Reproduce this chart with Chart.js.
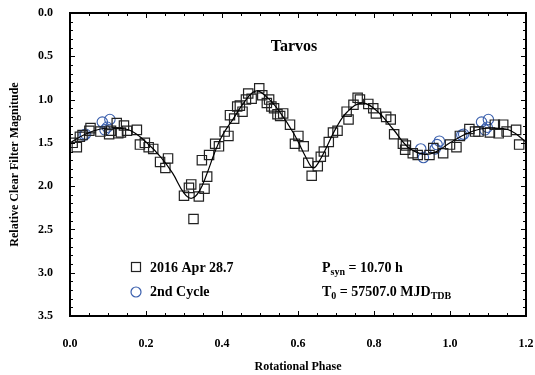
<!DOCTYPE html>
<html>
<head>
<meta charset="utf-8">
<script src="https://cdn.jsdelivr.net/npm/chart.js@4/dist/chart.umd.min.js"></script>
<style>
  html, body { margin: 0; padding: 0; background: #fff; }
  #wrap { width: 535px; height: 375px; }
</style>
</head>
<body>
<div id="wrap"><canvas id="myChart" width="535" height="375"></canvas></div>
<script>
'use strict';

// 2016 Apr 28.7 (squares): [phase, magnitude]
let obsPoints = [
  [0.007, 1.50], [0.018, 1.55], [0.026, 1.43], [0.033, 1.41], [0.051, 1.36], [0.054, 1.33],
  [0.080, 1.37], [0.103, 1.40], [0.108, 1.36], [0.123, 1.27], [0.127, 1.39], [0.134, 1.38],
  [0.142, 1.30], [0.150, 1.36], [0.176, 1.35], [0.184, 1.52], [0.197, 1.50], [0.207, 1.55],
  [0.219, 1.57], [0.237, 1.72], [0.251, 1.79], [0.258, 1.68], [0.300, 2.11], [0.313, 2.02],
  [0.319, 1.98], [0.325, 2.38], [0.339, 2.12], [0.354, 2.03], [0.347, 1.70], [0.361, 1.89],
  [0.366, 1.64], [0.382, 1.51], [0.392, 1.54], [0.407, 1.37], [0.417, 1.42], [0.421, 1.18],
  [0.432, 1.22], [0.440, 1.08], [0.447, 1.07], [0.454, 1.14], [0.463, 1.00], [0.469, 0.93],
  [0.478, 0.99], [0.498, 0.87], [0.506, 0.95], [0.518, 1.04], [0.524, 1.00], [0.530, 1.08],
  [0.537, 1.10], [0.546, 1.17], [0.553, 1.19], [0.561, 1.16], [0.579, 1.29], [0.592, 1.51],
  [0.601, 1.42], [0.615, 1.54], [0.627, 1.73], [0.636, 1.88], [0.652, 1.77], [0.660, 1.66],
  [0.668, 1.60], [0.681, 1.49], [0.692, 1.38], [0.704, 1.36], [0.728, 1.14], [0.733, 1.23],
  [0.746, 1.06], [0.757, 0.98], [0.763, 1.00], [0.785, 1.05], [0.798, 1.10], [0.805, 1.16],
  [0.832, 1.20], [0.844, 1.23], [0.853, 1.40], [0.876, 1.51], [0.884, 1.53], [0.882, 1.58],
  [0.902, 1.62], [0.915, 1.64], [0.946, 1.64], [0.956, 1.56], [0.982, 1.62], [1.000, 1.52],
  [1.017, 1.55], [1.026, 1.42], [1.051, 1.34], [1.066, 1.37], [1.075, 1.37], [1.105, 1.38],
  [1.118, 1.29], [1.128, 1.39], [1.140, 1.29], [1.149, 1.37], [1.174, 1.35], [1.182, 1.52]
];

// 2nd Cycle (circles)
let cyclePoints = [
  [0.037, 1.41], [0.041, 1.40], [0.085, 1.26], [0.105, 1.23], [0.092, 1.35], [0.098, 1.32],
  [0.923, 1.57], [0.930, 1.67], [0.961, 1.57], [0.966, 1.52], [0.972, 1.48],
  [1.031, 1.41], [1.036, 1.40], [1.083, 1.26], [1.101, 1.23], [1.092, 1.35], [1.098, 1.32]
];

// fitted curve
let fitPoints = [
  [0.00, 1.50], [0.04, 1.40], [0.08, 1.34], [0.12, 1.33], [0.16, 1.36], [0.20, 1.49],
  [0.24, 1.67], [0.27, 1.85], [0.30, 2.08], [0.32, 2.14], [0.34, 2.06], [0.36, 1.86],
  [0.38, 1.62], [0.40, 1.42], [0.43, 1.22], [0.46, 1.02], [0.49, 0.90], [0.52, 0.98],
  [0.55, 1.13], [0.59, 1.40], [0.62, 1.66], [0.64, 1.79], [0.66, 1.68], [0.70, 1.33],
  [0.73, 1.14], [0.77, 1.04], [0.81, 1.14], [0.85, 1.34], [0.89, 1.55], [0.93, 1.63],
  [0.96, 1.61], [1.00, 1.50], [1.04, 1.40], [1.08, 1.34], [1.12, 1.33], [1.16, 1.36],
  [1.20, 1.49]
];

let xTicks = [0.0, 0.2, 0.4, 0.6, 0.8, 1.0, 1.2];
let yTicks = [0.0, 0.5, 1.0, 1.5, 2.0, 2.5, 3.0, 3.5];

let chartTitle = 'Tarvos';
let legendLabels = ['2016 Apr 28.7', '2nd Cycle'];

const FONT = "'Liberation Serif', 'DejaVu Serif', serif";
const BLUE = '#3a5fad';

function toXY(arr) {
  return arr.map(p => ({ x: p[0], y: p[1] }));
}

// text with a subscript part: [[text, isSub], ...]
function drawRich(ctx, x, y, parts) {
  for (let i = 0; i < parts.length; i++) {
    let sub = parts[i][1];
    ctx.font = sub ? 'bold 10px ' + FONT : 'bold 14px ' + FONT;
    ctx.fillText(parts[i][0], x, sub ? y + 4 : y);
    x += ctx.measureText(parts[i][0]).width;
  }
}

let framePlugin = {
  id: 'framePlugin',
  afterDraw(chart) {
    let ctx = chart.ctx;
    let a = chart.chartArea;
    let xs = chart.scales.x;
    let ys = chart.scales.y;
    ctx.save();
    ctx.strokeStyle = '#000';

    // inward ticks on all four sides
    ctx.lineWidth = 1;
    ctx.beginPath();
    for (let i = 0; i <= 24; i++) {
      let v = i * 0.05;
      let len = (i % 4 === 0) ? 5 : 3;
      let px = Math.round(xs.getPixelForValue(v)) + 0.5;
      ctx.moveTo(px, a.bottom); ctx.lineTo(px, a.bottom - len);
      ctx.moveTo(px, a.top); ctx.lineTo(px, a.top + len);
    }
    for (let i = 0; i <= 35; i++) {
      let v = i * 0.1;
      let len = (i % 5 === 0) ? 5 : 3;
      let py = Math.round(ys.getPixelForValue(v)) + 0.5;
      ctx.moveTo(a.left, py); ctx.lineTo(a.left + len, py);
      ctx.moveTo(a.right, py); ctx.lineTo(a.right - len, py);
    }
    ctx.stroke();

    ctx.lineWidth = 2;
    ctx.strokeRect(a.left, a.top, a.right - a.left, a.bottom - a.top);

    // title
    ctx.fillStyle = '#000';
    ctx.textBaseline = 'middle';
    ctx.textAlign = 'center';
    ctx.font = 'bold 16px ' + FONT;
    ctx.fillText(chartTitle, 294, 47);

    // legend
    ctx.textAlign = 'left';
    ctx.lineWidth = 1.2;
    ctx.strokeStyle = '#222';
    ctx.strokeRect(131.5, 262.5, 9, 9);
    ctx.strokeStyle = BLUE;
    ctx.beginPath();
    ctx.arc(136, 292, 5, 0, Math.PI * 2);
    ctx.stroke();
    ctx.font = 'bold 14px ' + FONT;
    ctx.fillText(legendLabels[0], 150, 268);
    ctx.fillText(legendLabels[1], 150, 292);

    // period / epoch
    drawRich(ctx, 322, 268, [['P', false], ['syn', true], [' = 10.70 h', false]]);
    drawRich(ctx, 322, 292, [['T', false], ['0', true], [' = 57507.0 MJD', false], ['TDB', true]]);
    ctx.restore();
  }
};

let ctx = document.getElementById('myChart').getContext('2d');

let myChart = new Chart(ctx, {
  type: 'scatter',
  data: {
    datasets: [
      {
        label: 'fit',
        data: toXY(fitPoints),
        showLine: true,
        borderColor: '#000',
        borderWidth: 1.2,
        pointRadius: 0,
        tension: 0.4,
        fill: false
      },
      {
        label: legendLabels[0],
        data: toXY(obsPoints),
        pointStyle: 'rect',
        pointRadius: 6.6,
        pointBorderColor: '#222',
        pointBackgroundColor: 'rgba(0,0,0,0)',
        pointBorderWidth: 1.2
      },
      {
        label: legendLabels[1],
        data: toXY(cyclePoints),
        pointStyle: 'circle',
        pointRadius: 5.2,
        pointBorderColor: BLUE,
        pointBackgroundColor: 'rgba(0,0,0,0)',
        pointBorderWidth: 1.1
      }
    ]
  },
  options: {
    responsive: false,
    animation: false,
    layout: { padding: { top: 13, right: 9, left: 0, bottom: 0 } },
    plugins: {
      legend: { display: false },
      tooltip: { enabled: false }
    },
    scales: {
      x: {
        type: 'linear',
        min: 0, max: 1.2,
        grid: { display: false, drawTicks: false },
        border: { display: false },
        afterBuildTicks: s => { s.ticks = xTicks.map(v => ({ value: v })); },
        afterFit: s => { s.height = 59; s.paddingLeft = 0; s.paddingRight = 0; },
        ticks: {
          padding: 21,
          color: '#000',
          font: { family: FONT, size: 12, weight: 'bold' },
          callback: v => Number(v).toFixed(1)
        },
        title: {
          display: true,
          text: 'Rotational Phase',
          color: '#000',
          padding: { top: 0, bottom: 1 },
          font: { family: FONT, size: 12, weight: 'bold' }
        }
      },
      y: {
        type: 'linear',
        reverse: true,
        min: 0, max: 3.5,
        grid: { display: false, drawTicks: false },
        border: { display: false },
        afterBuildTicks: s => { s.ticks = yTicks.map(v => ({ value: v })); },
        afterFit: s => { s.width = 70; s.paddingTop = 0; s.paddingBottom = 0; },
        ticks: {
          padding: 17,
          color: '#000',
          font: { family: FONT, size: 12, weight: 'bold' },
          callback: v => Number(v).toFixed(1)
        },
        title: {
          display: true,
          text: 'Relative Clear Filter Magnitude',
          color: '#000',
          padding: { top: 8, bottom: 0 },
          font: { family: FONT, size: 12, weight: 'bold' }
        }
      }
    }
  },
  plugins: [framePlugin]
});
</script>
</body>
</html>
